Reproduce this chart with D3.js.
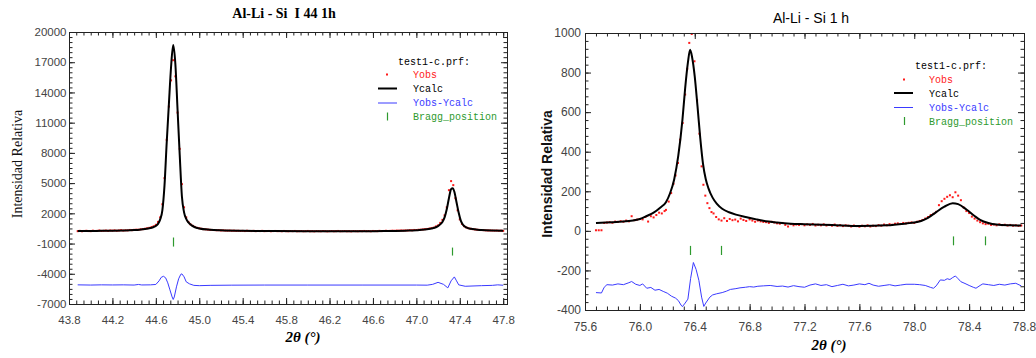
<!DOCTYPE html>
<html>
<head>
<meta charset="utf-8">
<script src="https://cdn.jsdelivr.net/npm/d3@7"></script>
<style>
  html, body { margin: 0; padding: 0; background: #fff; }
  svg { display: block; }
</style>
</head>
<body>
<svg id="fig" width="1036" height="358"></svg>
<script>
// ---------- Panel A: Al-Li - Si I 44 1h ----------
const aTitle = "Al-Li - Si  I 44 1h";
const aXTicks = [43.8, 44.2, 44.6, 45.0, 45.4, 45.8, 46.2, 46.6, 47.0, 47.4, 47.8];
const aYTicks = [-7000, -4000, -1000, 2000, 5000, 8000, 11000, 14000, 17000, 20000];

// observed counts: scan start, step, intensities
const aObsStart = 43.88;
const aObsStep = 0.02;
const aObs = [
  230,260,220,250,270,240,230,280,250,260,
  300,250,270,290,260,300,280,310,270,300,
  330,290,320,310,350,330,360,380,370,420,
  430,470,520,560,640,720,860,1150,1600,2900,
  5500,9300,12600,15200,17200,15600,12000,8400,4900,2600,
  1600,1150,900,760,650,560,520,470,430,410,
  380,360,350,340,320,330,300,310,290,280,
  290,270,280,260,270,250,260,240,270,250,
  240,260,230,250,240,260,230,240,250,220,
  240,250,230,240,220,250,230,220,240,230,
  250,220,230,240,220,230,250,220,230,210,
  240,230,220,240,230,210,230,240,220,230,
  250,220,230,240,220,230,210,240,230,220,
  240,230,250,230,240,220,250,240,230,260,
  240,250,270,250,260,280,270,290,280,300,
  290,310,300,330,320,350,340,370,380,400,
  430,450,490,540,580,700,800,1050,1350,1800,
  2600,4300,5200,4800,3500,2300,1400,950,720,600,
  520,470,430,400,370,360,340,330,310,300,
  300,290,280,290,270,280,260
];

const aCalc = [
  [43.88,240],[44.0,250],[44.1,265],[44.2,280],[44.3,300],[44.4,340],[44.45,380],[44.5,440],
  [44.55,540],[44.58,640],[44.6,750],[44.62,950],[44.64,1400],[44.66,2300],[44.68,4800],
  [44.70,9000],[44.72,12800],[44.74,16500],[44.76,18700],[44.78,16800],[44.80,12300],
  [44.82,7800],[44.84,3700],[44.86,2100],[44.88,1450],[44.90,1100],[44.93,800],[44.96,620],
  [45.0,500],[45.1,370],[45.2,310],[45.4,260],[45.7,235],[46.0,225],[46.4,225],[46.7,240],
  [46.9,280],[47.0,320],[47.08,390],[47.14,500],[47.18,620],[47.21,820],[47.24,1150],
  [47.26,1600],[47.28,2400],[47.30,3500],[47.32,4400],[47.335,4500],[47.35,4150],[47.37,3100],
  [47.39,2050],[47.41,1250],[47.43,850],[47.46,600],[47.5,460],[47.6,340],[47.7,290],[47.8,270]
];

const aDiff = [
  [43.88,-5100],[44.0,-5120],[44.1,-5100],[44.2,-5110],[44.3,-5100],[44.4,-5120],[44.44,-5060],
  [44.47,-5110],[44.55,-5100],[44.6,-5060],[44.63,-4700],[44.65,-4350],[44.67,-4250],[44.69,-4400],
  [44.71,-4900],[44.73,-5600],[44.75,-6300],[44.76,-6550],[44.77,-6300],[44.79,-5300],[44.81,-4500],
  [44.83,-4050],[44.84,-4010],[44.86,-4300],[44.88,-4800],[44.91,-5000],[44.95,-5150],[45.0,-5180],
  [45.1,-5150],[45.3,-5130],[45.6,-5120],[46.0,-5120],[46.5,-5120],[47.0,-5120],[47.1,-5130],
  [47.15,-5050],[47.2,-4850],[47.25,-5050],[47.29,-5400],[47.32,-4700],[47.35,-4310],[47.37,-4700],
  [47.39,-5100],[47.45,-5240],[47.6,-5180],[47.7,-5150],[47.75,-5100],[47.8,-5140]
];

// Bragg reflections: [position, row top, row bottom]
const aBragg = [[44.761, -400, -1300], [47.327, -1400, -2190]];

// ---------- Panel B: Al-Li - Si 1 h ----------
const bTitle = "Al-Li - Si 1 h";
const bXTicks = [75.6, 76.0, 76.4, 76.8, 77.2, 77.6, 78.0, 78.4, 78.8];
const bYTicks = [-400, -200, 0, 200, 400, 600, 800, 1000];

const bObs = [
  [75.68,3],[75.70,3],[75.72,3],[75.74,40],[75.76,42],[75.78,44],[75.80,41],[75.82,47],[75.84,45],
  [75.86,49],[75.88,46],[75.90,52],[75.92,48],[75.94,74],[75.96,54],[75.98,57],[76.00,60],[76.02,58],
  [76.04,70],[76.06,47],[76.08,74],[76.10,68],[76.12,80],[76.14,92],[76.16,88],[76.18,100],[76.19,106],
  [76.21,148],[76.228,191],[76.245,238],[76.26,280],[76.278,343],[76.293,461],[76.312,545],[76.33,689],
  [76.345,819],[76.36,950],[76.378,995],[76.398,857],[76.417,660],[76.434,491],[76.45,326],[76.463,233],
  [76.477,178],[76.492,140],[76.507,115],[76.522,95],[76.537,88],[76.556,70],[76.575,58],[76.595,52],
  [76.615,64],[76.635,50],[76.655,60],[76.675,54],[76.695,57],[76.715,48],[76.735,62],[76.755,55],
  [76.775,50],[76.80,58],[76.82,52],[76.84,46],[76.86,52],[76.88,48],[76.90,45],[76.92,44],[76.94,40],
  [76.96,46],[76.98,42],[77.00,38],[77.02,36],[77.04,40],[77.06,30],[77.08,22],[77.10,34],[77.12,28],
  [77.14,32],[77.16,30],[77.18,34],[77.20,28],[77.22,33],[77.24,30],[77.26,35],[77.28,27],[77.30,31],
  [77.32,28],[77.34,33],[77.36,27],[77.38,30],[77.40,26],[77.42,32],[77.44,25],[77.46,29],[77.48,24],
  [77.50,28],[77.52,26],[77.54,22],[77.56,27],[77.58,24],[77.60,21],[77.62,26],[77.64,23],[77.66,28],
  [77.68,22],[77.70,26],[77.72,24],[77.74,29],[77.76,26],[77.78,32],[77.80,28],[77.82,34],[77.84,31],
  [77.86,36],[77.88,38],[77.90,35],[77.92,40],[77.94,38],[77.96,41],[77.98,43],[78.00,40],[78.02,46],
  [78.04,50],[78.06,55],[78.08,62],[78.10,70],[78.12,80],[78.14,86],[78.16,96],[78.18,130],[78.20,150],
  [78.22,162],[78.24,172],[78.26,180],[78.28,170],[78.30,195],[78.32,178],[78.34,155],[78.36,118],
  [78.38,100],[78.40,90],[78.42,72],[78.44,62],[78.46,52],[78.48,44],[78.50,38],[78.52,34],[78.54,36],
  [78.56,30],[78.58,32],[78.60,28],[78.62,33],[78.64,29],[78.66,31],[78.68,27],[78.70,30],[78.72,26],
  [78.74,28],[78.76,25],[78.78,27]
];

const bCalc = [
  [75.68,40],[75.75,42],[75.85,46],[75.95,52],[76.0,60],[76.05,75],[76.1,92],[76.15,118],[76.19,145],
  [76.22,190],[76.25,260],[76.28,380],[76.31,560],[76.33,720],[76.35,850],[76.366,915],[76.38,880],
  [76.40,780],[76.42,630],[76.44,470],[76.46,340],[76.48,262],[76.50,215],[76.53,168],[76.56,138],
  [76.6,112],[76.65,94],[76.7,82],[76.78,69],[76.85,58],[76.9,51],[77.0,42],[77.1,36],[77.2,34],
  [77.4,30],[77.6,24],[77.8,28],[77.95,38],[78.0,42],[78.05,50],[78.1,66],[78.16,95],[78.22,122],
  [78.28,140],[78.32,135],[78.38,108],[78.44,75],[78.48,56],[78.54,40],[78.6,32],[78.7,28],[78.78,27]
];

const bDiff = [
  [75.68,-312],[75.72,-314],[75.74,-285],[75.76,-272],[75.80,-274],[75.84,-268],[75.88,-272],[75.92,-262],
  [75.94,-256],[75.97,-270],[76.00,-276],[76.02,-268],[76.05,-290],[76.08,-286],[76.11,-300],[76.14,-296],
  [76.17,-306],[76.20,-315],[76.23,-330],[76.26,-340],[76.28,-352],[76.30,-375],[76.31,-383],[76.33,-365],
  [76.35,-345],[76.37,-240],[76.39,-160],[76.41,-195],[76.43,-250],[76.45,-335],[76.466,-382],[76.48,-365],
  [76.51,-335],[76.53,-324],[76.56,-318],[76.6,-312],[76.63,-305],[76.66,-296],[76.7,-292],[76.73,-288],
  [76.77,-285],[76.8,-282],[76.83,-284],[76.86,-280],[76.9,-278],[76.95,-276],[77.0,-281],[77.04,-279],
  [77.08,-284],[77.12,-277],[77.16,-282],[77.2,-285],[77.24,-274],[77.28,-268],[77.32,-276],[77.36,-272],
  [77.4,-282],[77.44,-276],[77.48,-270],[77.52,-278],[77.56,-274],[77.6,-268],[77.64,-272],[77.67,-265],
  [77.7,-274],[77.74,-280],[77.78,-276],[77.82,-272],[77.86,-278],[77.9,-274],[77.94,-270],[78.0,-270],
  [78.04,-272],[78.08,-276],[78.12,-286],[78.14,-290],[78.16,-278],[78.19,-248],[78.22,-250],[78.24,-242],
  [78.26,-246],[78.28,-236],[78.30,-228],[78.32,-242],[78.34,-257],[78.37,-266],[78.4,-276],[78.43,-285],
  [78.45,-290],[78.48,-276],[78.5,-268],[78.54,-272],[78.58,-276],[78.62,-270],[78.66,-274],[78.7,-268],
  [78.74,-265],[78.78,-278]
];

const bBragg = [[76.369, -76, -122], [76.593, -76, -122], [78.285, -28, -73], [78.515, -28, -73]];

const legendHeader = "test1-c.prf:";
const legendItems = ["Yobs", "Ycalc", "Yobs-Ycalc", "Bragg_position"];

// ---------- drawing ----------
const C = { obs: "#ff1a1a", calc: "#000", diff: "#3a3aff", bragg: "#2e9a2e", tick: "#444" };
const svg = d3.select("#fig");

function drawPanel(p) {
  const g = svg.append("g");
  const x = d3.scaleLinear().domain(p.xDomain).range([p.left, p.right]);
  const y = d3.scaleLinear().domain(p.yDomain).range([p.bottom, p.top]);

  const clipId = "clip-" + p.id;
  g.append("clipPath").attr("id", clipId)
    .append("rect").attr("x", p.left).attr("y", p.top - 2)
    .attr("width", p.right - p.left).attr("height", p.bottom - p.top + 2);

  const plot = g.append("g").attr("clip-path", `url(#${clipId})`);

  // difference curve
  plot.append("path").datum(p.diff)
    .attr("fill", "none").attr("stroke", C.diff).attr("stroke-width", 1)
    .attr("d", d3.line().x(d => x(d[0])).y(d => y(d[1])));

  // Bragg reflection markers
  plot.selectAll("line.bragg").data(p.bragg).join("line")
    .attr("class", "bragg")
    .attr("x1", d => Math.round(x(d[0])) + 0.5).attr("x2", d => Math.round(x(d[0])) + 0.5)
    .attr("y1", d => y(d[1])).attr("y2", d => y(d[2]))
    .attr("stroke", C.bragg).attr("stroke-width", 1.2);

  // observed points
  plot.selectAll("rect.obs").data(p.obs).join("rect")
    .attr("class", "obs")
    .attr("x", d => x(d[0]) - 1).attr("y", d => y(d[1]) - 1)
    .attr("width", p.dot).attr("height", p.dot)
    .attr("fill", C.obs);

  // calculated profile
  plot.append("path").datum(p.calc)
    .attr("fill", "none").attr("stroke", C.calc).attr("stroke-width", p.calcWidth)
    .attr("stroke-linejoin", "round")
    .attr("d", d3.line().curve(d3.curveMonotoneX).x(d => x(d[0])).y(d => y(d[1])));

  // minor tick positions
  const nx = Math.floor((p.xDomain[1] - p.xDomain[0]) / p.xMinor + 1e-6);
  const minorX = d3.range(1, nx + 1).map(i => p.xDomain[0] + i * p.xMinor);
  const ny = Math.round((p.yDomain[1] - p.yDomain[0]) / p.yMinor);
  const minorY = d3.range(1, ny).map(i => p.yDomain[0] + i * p.yMinor);

  const styleAxis = a => {
    a.select(".domain").remove();
    a.selectAll(".tick line").attr("stroke", "#222");
    a.selectAll("text").attr("fill", C.tick)
      .style("font-family", "'Liberation Sans', Arial, sans-serif")
      .style("font-size", p.tickFont + "px");
  };

  // bottom
  g.append("g").attr("transform", `translate(0,${p.bottom})`)
    .call(d3.axisBottom(x).tickValues(minorX).tickSizeInner(-p.minorLen).tickSizeOuter(0).tickFormat(""))
    .call(styleAxis);
  g.append("g").attr("transform", `translate(0,${p.bottom})`)
    .call(d3.axisBottom(x).tickValues(p.xTicks).tickSizeInner(-p.majorLen).tickSizeOuter(0)
      .tickPadding(p.xPad).tickFormat(d => d.toFixed(1)))
    .call(styleAxis);
  // top
  g.append("g").attr("transform", `translate(0,${p.top})`)
    .call(d3.axisTop(x).tickValues(minorX).tickSizeInner(-p.minorLen).tickSizeOuter(0).tickFormat(""))
    .call(styleAxis);
  g.append("g").attr("transform", `translate(0,${p.top})`)
    .call(d3.axisTop(x).tickValues(p.xTicks).tickSizeInner(-p.majorLen).tickSizeOuter(0).tickFormat(""))
    .call(styleAxis);
  // left
  g.append("g").attr("transform", `translate(${p.left},0)`)
    .call(d3.axisLeft(y).tickValues(minorY).tickSizeInner(-p.minorLen).tickSizeOuter(0).tickFormat(""))
    .call(styleAxis);
  g.append("g").attr("transform", `translate(${p.left},0)`)
    .call(d3.axisLeft(y).tickValues(p.yTicks).tickSizeInner(-p.majorLen).tickSizeOuter(0)
      .tickPadding(p.yPad).tickFormat(d => String(d)))
    .call(styleAxis);
  // right
  g.append("g").attr("transform", `translate(${p.right},0)`)
    .call(d3.axisRight(y).tickValues(minorY).tickSizeInner(-p.minorLen).tickSizeOuter(0).tickFormat(""))
    .call(styleAxis);
  g.append("g").attr("transform", `translate(${p.right},0)`)
    .call(d3.axisRight(y).tickValues(p.yTicks).tickSizeInner(-p.majorLen).tickSizeOuter(0).tickFormat(""))
    .call(styleAxis);

  // frame
  g.append("rect")
    .attr("x", p.left + 0.5).attr("y", p.top + 0.5)
    .attr("width", p.right - p.left).attr("height", p.bottom - p.top)
    .attr("fill", "none").attr("stroke", "#222").attr("stroke-width", 1);

  // title and axis titles
  g.append("text").attr("x", p.titleX).attr("y", p.titleY)
    .attr("text-anchor", "middle")
    .style("white-space", "pre")
    .style("font-family", p.titleFamily).style("font-weight", p.titleWeight)
    .style("font-size", "14px").attr("fill", "#000")
    .text(p.title);

  g.append("text")
    .attr("transform", `translate(${p.yLabelX},${p.yLabelY}) rotate(-90)`)
    .attr("text-anchor", "middle")
    .style("font-family", p.yLabelFamily).style("font-weight", p.yLabelWeight)
    .style("font-size", "14px").attr("fill", "#111")
    .text("Intensidad Relativa");

  const xl = g.append("text").attr("x", p.xLabelX).attr("y", p.xLabelY)
    .attr("text-anchor", "middle")
    .style("font-family", "'Liberation Serif', 'Times New Roman', serif")
    .style("font-weight", "bold").style("font-style", "italic")
    .style("font-size", "15px").attr("fill", "#000");
  xl.append("tspan").text("2θ (°)");

  // legend
  const lg = g.append("g").style("font-family", "'Liberation Mono', 'Courier New', monospace")
    .style("font-size", "10px");
  lg.append("text").attr("x", p.legHeadX).attr("y", p.legY[0]).attr("fill", "#000").text(legendHeader);
  const colors = [C.obs, "#000", C.diff, C.bragg];
  legendItems.forEach((t, i) => {
    lg.append("text").attr("x", p.legTextX).attr("y", p.legY[i + 1]).attr("fill", colors[i]).text(t);
  });
  const cy = i => p.legY[i + 1] - 3.5;
  lg.append("rect").attr("x", p.legSymX - 1).attr("y", cy(0) - 1).attr("width", 2).attr("height", 2).attr("fill", C.obs);
  lg.append("line").attr("x1", p.legLine[0]).attr("x2", p.legLine[1])
    .attr("y1", cy(1)).attr("y2", cy(1)).attr("stroke", "#000").attr("stroke-width", 2);
  lg.append("line").attr("x1", p.legLine[0]).attr("x2", p.legLine[1])
    .attr("y1", cy(2) + 0.5).attr("y2", cy(2) + 0.5).attr("stroke", C.diff).attr("stroke-width", 1);
  lg.append("line").attr("x1", p.legSymX + 0.5).attr("x2", p.legSymX + 0.5)
    .attr("y1", cy(3) - 4).attr("y2", cy(3) + 4).attr("stroke", C.bragg).attr("stroke-width", 1.2);
}

drawPanel({
  id: "a", title: aTitle,
  left: 69, right: 507, top: 32, bottom: 304,
  xDomain: [43.8, 47.835], yDomain: [-7000, 20000],
  xTicks: aXTicks, yTicks: aYTicks, xMinor: 0.4 / 6, yMinor: 500,
  obs: aObs.map((v, i) => [aObsStart + i * aObsStep, v]),
  calc: aCalc, diff: aDiff, bragg: aBragg,
  dot: 2, calcWidth: 2,
  majorLen: 6, minorLen: 3.5, tickFont: 11.5, xPad: 12, yPad: 2.5,
  titleX: 284, titleY: 18, titleFamily: "'Liberation Serif', 'Times New Roman', serif", titleWeight: "bold",
  yLabelX: 21.5, yLabelY: 164, yLabelFamily: "'Liberation Serif', 'Times New Roman', serif", yLabelWeight: "normal",
  xLabelX: 303, xLabelY: 342,
  legHeadX: 398, legTextX: 413, legSymX: 387, legLine: [378, 397],
  legY: [65, 78, 92, 106, 120]
});

drawPanel({
  id: "b", title: bTitle,
  left: 585, right: 1024, top: 33, bottom: 310,
  xDomain: [75.6, 78.8], yDomain: [-400, 1000],
  xTicks: bXTicks, yTicks: bYTicks, xMinor: 0.08, yMinor: 40,
  obs: bObs, calc: bCalc, diff: bDiff, bragg: bBragg,
  dot: 2, calcWidth: 2,
  majorLen: 6, minorLen: 3.5, tickFont: 12, xPad: 12.5, yPad: 4,
  titleX: 811, titleY: 23, titleFamily: "'Liberation Sans', Arial, sans-serif", titleWeight: "normal",
  yLabelX: 552, yLabelY: 174, yLabelFamily: "'Liberation Sans', Arial, sans-serif", yLabelWeight: "bold",
  xLabelX: 829, xLabelY: 350,
  legHeadX: 915, legTextX: 929, legSymX: 904, legLine: [894, 913],
  legY: [69, 83, 96.5, 110.5, 124.5]
});
</script>
</body>
</html>
